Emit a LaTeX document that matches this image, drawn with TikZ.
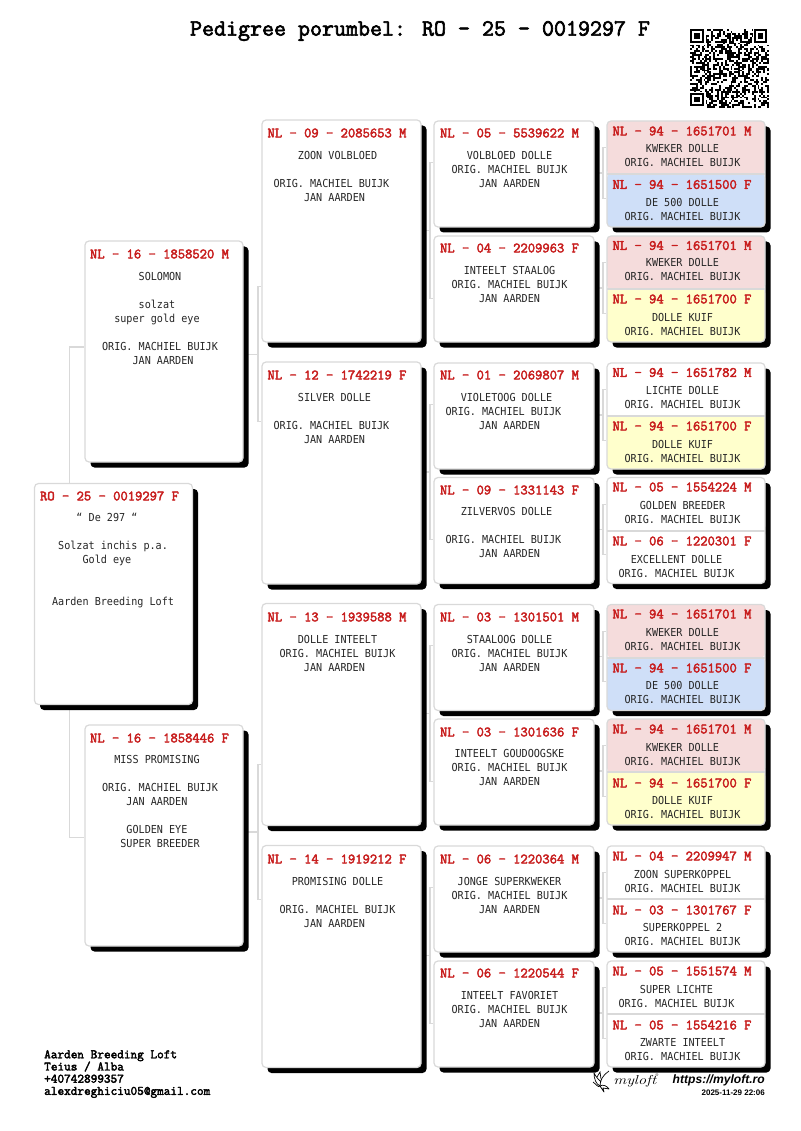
\documentclass[tikz,border=0pt]{standalone}
\usepackage{fontspec}
\usepackage{tikz}
\usetikzlibrary{calc,shadows,backgrounds}

\newfontfamily\bodyfont[FakeStretch=0.92]{DejaVu Sans Mono}
\newfontfamily\sansfont{Liberation Sans}
\newfontfamily\ringfont[FakeBold=2.8]{Latin Modern Mono}

\definecolor{linegrey}{HTML}{D9D9D9}
\definecolor{ringred}{HTML}{C81E1E}
\definecolor{malefill}{HTML}{F5DCDC}
\definecolor{bluefill}{HTML}{CFDFF8}
\definecolor{yellowfill}{HTML}{FFFFCC}

% one blank character of the text font, to push a centred line sideways
\newcommand{\pad}{\mbox{ }}

% bracket from a parent to its two children
\newcommand{\linkpair}[5]{
    \coordinate (up) at ($(#2.north west)!#4!(#2.south west)$);
    \coordinate (lo) at ($(#3.north west)!#5!(#3.south west)$);
    \coordinate (mid) at ($(up)!.5!(lo)+(-3.5,0)$);
    \draw [link] (up) -- ++(-3.5,0) |- (lo);
    \draw [link] (#1.east |- mid) -- (mid);
}

\tikzset{
    box/.style={draw=linegrey, fill=white, line width=1.2pt, rounded corners=4pt, inner sep=0pt,
        general shadow={fill=black, shadow xshift=5.5pt, shadow yshift=-5.5pt}},
    pairbox/.style 2 args={box, minimum width=158, minimum height=106, path picture={
        \fill [#1] (path picture bounding box.north west) rectangle (path picture bounding box.east);
        \fill [#2] (path picture bounding box.west) rectangle (path picture bounding box.south east);
        \draw [linegrey, line width=2pt] (path picture bounding box.west) -- (path picture bounding box.east);
    }},
    bigbox/.style={box, minimum width=159, minimum height=222},
    midbox/.style={box, minimum width=160, minimum height=106},
    link/.style={draw=linegrey, line width=1.2pt},
    ring/.style={font=\ringfont\fontsize{14.2}{14}\selectfont, text=ringred, inner sep=0pt},
    body/.style={font=\bodyfont\fontsize{11}{14}\selectfont, text=black!85, align=center, inner sep=0pt, anchor=north, yshift=4.1}
}

\begin{document}
\begin{tikzpicture}[x=1pt,y=-1pt]
    \useasboundingbox (0,0) rectangle (800,1131);

    % Title
    \node [font=\ringfont\fontsize{23.3}{24}\selectfont] (title) at (420,31) {Pedigree porumbel: RO — 25 — 0019297 F};

    % QR code
    \pgfmathsetseed{297}
    \def\qrStep{1.93}
    \foreach \i in {0,...,40} {
        \foreach \j in {0,...,40} {
            \pgfmathrandominteger{\qrBit}{0}{1}
            \ifnum\qrBit=1
                \fill (690+\i*\qrStep,29+\j*\qrStep) rectangle ++(\qrStep,\qrStep);
            \fi
        }
    }
    \foreach \a/\b in {0/0,33/0,0/33} {
        \fill [white] (690+\a*\qrStep-\qrStep*0.5,29+\b*\qrStep-\qrStep*0.5) rectangle ++(9*\qrStep,9*\qrStep);
        \fill (690+\a*\qrStep,29+\b*\qrStep) rectangle ++(7*\qrStep,7*\qrStep);
        \fill [white] (690+\a*\qrStep+\qrStep,29+\b*\qrStep+\qrStep) rectangle ++(5*\qrStep,5*\qrStep);
        \fill (690+\a*\qrStep+2*\qrStep,29+\b*\qrStep+2*\qrStep) rectangle ++(3*\qrStep,3*\qrStep);
    }

    % Subject
    \node [box, minimum width=158, minimum height=221] (root) at (113.5,594) {};
    \node [ring] (root ring) at (109.5,496) {RO — 25 — 0019297 F};
    \node [body] (root text) at (110,517) {“ De 297 “\pad\\[14pt]\pad Solzat inchis p.a.\\Gold eye\pad\\[28pt]\pad Aarden Breeding Loft};

    % Parents
    \node [box, minimum width=158, minimum height=221] (solomon) at (164,351.5) {};
    \node [ring] (solomon ring) at (159.5,254) {NL — 16 — 1858520 M};
    \node [body] (solomon text) at (160,276) {SOLOMON\\[14pt]solzat\pad\\super gold eye\pad\\[14pt]ORIG. MACHIEL BUIJK\\\pad JAN AARDEN};

    \node [box, minimum width=158, minimum height=221] (miss) at (164,835.5) {};
    \node [ring] (miss ring) at (159.5,738) {NL — 16 — 1858446 F};
    \node [body] (miss text) at (160,759) {MISS PROMISING\pad\\[14pt]ORIG. MACHIEL BUIJK\\JAN AARDEN\pad\\[14pt]GOLDEN EYE\pad\\SUPER BREEDER};

    % Grandparents
    \node [bigbox] (zoon) at (341.5,231) {};
    \node [ring] (zoon ring) at (337,133) {NL — 09 — 2085653 M};
    \node [body] (zoon text) at (334.5,155) {\pad ZOON VOLBLOED\\[14pt]ORIG. MACHIEL BUIJK\pad\\JAN AARDEN};

    \node [bigbox] (silver) at (341.5,473) {};
    \node [ring] (silver ring) at (337,375) {NL — 12 — 1742219 F};
    \node [body] (silver text) at (334.5,397) {SILVER DOLLE\\[14pt]ORIG. MACHIEL BUIJK\pad\\JAN AARDEN};

    \node [bigbox] (inteelt) at (341.5,714.5) {};
    \node [ring] (inteelt ring) at (337,617) {NL — 13 — 1939588 M};
    \node [body] (inteelt text) at (337.5,639) {DOLLE INTEELT\\ORIG. MACHIEL BUIJK\\JAN AARDEN\pad};

    \node [bigbox] (promising) at (341.5,956.5) {};
    \node [ring] (promising ring) at (337,859) {NL — 14 — 1919212 F};
    \node [body] (promising text) at (337.5,881) {PROMISING DOLLE\\[14pt]ORIG. MACHIEL BUIJK\\JAN AARDEN\pad};

    % Great-grandparents
    \node [midbox] (volbloed) at (514,174) {};
    \node [ring] (volbloed ring) at (509.5,133) {NL — 05 — 5539622 M};
    \node [body] (volbloed text) at (509.5,155) {VOLBLOED DOLLE\\ORIG. MACHIEL BUIJK\\JAN AARDEN};

    \node [midbox] (staalog) at (514,289) {};
    \node [ring] (staalog ring) at (509.5,248) {NL — 04 — 2209963 F};
    \node [body] (staalog text) at (509.5,270) {INTEELT STAALOG\\ORIG. MACHIEL BUIJK\\JAN AARDEN};

    \node [midbox] (violetoog) at (514,416) {};
    \node [ring] (violetoog ring) at (509.5,375) {NL — 01 — 2069807 M};
    \node [body] (violetoog text) at (506.5,397) {VIOLETOOG DOLLE\\ORIG. MACHIEL BUIJK\pad\\\pad JAN AARDEN};

    \node [midbox] (zilvervos) at (514,530.5) {};
    \node [ring] (zilvervos ring) at (509.5,490) {NL — 09 — 1331143 F};
    \node [body] (zilvervos text) at (506.5,511) {ZILVERVOS DOLLE\\[14pt]ORIG. MACHIEL BUIJK\pad\\\pad JAN AARDEN};

    \node [midbox] (staaloog) at (514,657.5) {};
    \node [ring] (staaloog ring) at (509.5,617) {NL — 03 — 1301501 M};
    \node [body] (staaloog text) at (509.5,639) {STAALOOG DOLLE\\ORIG. MACHIEL BUIJK\\JAN AARDEN};

    \node [midbox] (goudoogske) at (514,772) {};
    \node [ring] (goudoogske ring) at (509.5,732) {NL — 03 — 1301636 F};
    \node [body] (goudoogske text) at (509.5,753.5) {INTEELT GOUDOOGSKE\\ORIG. MACHIEL BUIJK\\JAN AARDEN};

    \node [midbox] (superkweker) at (514,899) {};
    \node [ring] (superkweker ring) at (509.5,859) {NL — 06 — 1220364 M};
    \node [body] (superkweker text) at (509.5,881) {JONGE SUPERKWEKER\\ORIG. MACHIEL BUIJK\\JAN AARDEN};

    \node [midbox] (favoriet) at (514,1014) {};
    \node [ring] (favoriet ring) at (509.5,973) {NL — 06 — 1220544 F};
    \node [body] (favoriet text) at (509.5,995.5) {INTEELT FAVORIET\\ORIG. MACHIEL BUIJK\\JAN AARDEN};

    % Last generation, two birds in each box
    \node [pairbox={malefill}{bluefill}] (pairA) at (686,174) {};
    \node [ring] (pairA ring m) at (682,131) {NL — 94 — 1651701 M};
    \node [body] (pairA text m) at (682.5,148) {KWEKER DOLLE\\ORIG. MACHIEL BUIJK};
    \node [ring] (pairA ring f) at (682,184.5) {NL — 94 — 1651500 F};
    \node [body] (pairA text f) at (682.5,202) {DE 500 DOLLE\\ORIG. MACHIEL BUIJK};

    \node [pairbox={malefill}{yellowfill}] (pairB) at (686,289) {};
    \node [ring] (pairB ring m) at (682,245.5) {NL — 94 — 1651701 M};
    \node [body] (pairB text m) at (682.5,262.5) {KWEKER DOLLE\\ORIG. MACHIEL BUIJK};
    \node [ring] (pairB ring f) at (682,299) {NL — 94 — 1651700 F};
    \node [body] (pairB text f) at (682.5,317) {DOLLE KUIF\\ORIG. MACHIEL BUIJK};

    \node [pairbox={white}{yellowfill}] (pairC) at (686,416) {};
    \node [ring] (pairC ring m) at (682,372.5) {NL — 94 — 1651782 M};
    \node [body] (pairC text m) at (682.5,390) {LICHTE DOLLE\\ORIG. MACHIEL BUIJK};
    \node [ring] (pairC ring f) at (682,426) {NL — 94 — 1651700 F};
    \node [body] (pairC text f) at (682.5,444) {DOLLE KUIF\\ORIG. MACHIEL BUIJK};

    \node [pairbox={white}{white}] (pairD) at (686,530.5) {};
    \node [ring] (pairD ring m) at (682,487) {NL — 05 — 1554224 M};
    \node [body] (pairD text m) at (682.5,505) {GOLDEN BREEDER\\ORIG. MACHIEL BUIJK};
    \node [ring] (pairD ring f) at (682,541) {NL — 06 — 1220301 F};
    \node [body] (pairD text f) at (676.5,559) {EXCELLENT DOLLE\\ORIG. MACHIEL BUIJK};

    \node [pairbox={malefill}{bluefill}] (pairE) at (686,657.5) {};
    \node [ring] (pairE ring m) at (682,614) {NL — 94 — 1651701 M};
    \node [body] (pairE text m) at (682.5,632) {KWEKER DOLLE\\ORIG. MACHIEL BUIJK};
    \node [ring] (pairE ring f) at (682,668) {NL — 94 — 1651500 F};
    \node [body] (pairE text f) at (682.5,685.5) {DE 500 DOLLE\\ORIG. MACHIEL BUIJK};

    \node [pairbox={malefill}{yellowfill}] (pairF) at (686,772) {};
    \node [ring] (pairF ring m) at (682,729) {NL — 94 — 1651701 M};
    \node [body] (pairF text m) at (682.5,747) {KWEKER DOLLE\\ORIG. MACHIEL BUIJK};
    \node [ring] (pairF ring f) at (682,783) {NL — 94 — 1651700 F};
    \node [body] (pairF text f) at (682.5,800.5) {DOLLE KUIF\\ORIG. MACHIEL BUIJK};

    \node [pairbox={white}{white}] (pairG) at (686,899) {};
    \node [ring] (pairG ring m) at (682,856) {NL — 04 — 2209947 M};
    \node [body] (pairG text m) at (682.5,874) {ZOON SUPERKOPPEL\\ORIG. MACHIEL BUIJK};
    \node [ring] (pairG ring f) at (682,910) {NL — 03 — 1301767 F};
    \node [body] (pairG text f) at (682.5,927.5) {SUPERKOPPEL 2\\ORIG. MACHIEL BUIJK};

    \node [pairbox={white}{white}] (pairH) at (686,1014) {};
    \node [ring] (pairH ring m) at (682,971) {NL — 05 — 1551574 M};
    \node [body] (pairH text m) at (676.5,989) {SUPER LICHTE\\ORIG. MACHIEL BUIJK};
    \node [ring] (pairH ring f) at (682,1025) {NL — 05 — 1554216 F};
    \node [body] (pairH text f) at (682.5,1042.5) {ZWARTE INTEELT\\ORIG. MACHIEL BUIJK};

    % Draw connectors behind the boxes
    \begin{scope}[on background layer]
        \draw [link] ($(solomon.north west)!.48!(solomon.south west)$) -| ($(root.north west)+(35.5,0)$);
        \draw [link] ($(miss.north west)!.51!(miss.south west)$) -| ($(root.south west)+(35.5,0)$);
        \linkpair{solomon}{zoon}{silver}{.75}{.27}
        \linkpair{miss}{inteelt}{promising}{.725}{.243}
        \linkpair{zoon}{volbloed}{staalog}{.39}{.585}
        \linkpair{silver}{violetoog}{zilvervos}{.39}{.585}
        \linkpair{inteelt}{staaloog}{goudoogske}{.39}{.585}
        \linkpair{promising}{superkweker}{favoriet}{.39}{.585}
        \linkpair{volbloed}{pairA}{pairA}{.255}{.726}
        \linkpair{staalog}{pairB}{pairB}{.255}{.726}
        \linkpair{violetoog}{pairC}{pairC}{.255}{.726}
        \linkpair{zilvervos}{pairD}{pairD}{.255}{.726}
        \linkpair{staaloog}{pairE}{pairE}{.255}{.726}
        \linkpair{goudoogske}{pairF}{pairF}{.255}{.726}
        \linkpair{superkweker}{pairG}{pairG}{.255}{.726}
        \linkpair{favoriet}{pairH}{pairH}{.255}{.726}
    \end{scope}

    % Footer
    \node [font=\ringfont\fontsize{12.9}{12.2}\selectfont, align=left, anchor=north west, inner sep=0pt] (contact) at (44,1050)
        {Aarden Breeding Loft\\Teius / Alba\\+40742899357\\alexdreghiciu05@gmail.com};
    \node [font=\sansfont\bfseries\itshape\fontsize{12.1}{14}\selectfont, anchor=east, inner sep=0pt] (site) at (765,1080) {https://myloft.ro};
    \node [font=\sansfont\bfseries\fontsize{8}{9}\selectfont, anchor=east, inner sep=0pt] (stamp) at (765,1093) {2025-11-29 22:06};

    % Logo
    \node [font=\itshape\fontsize{13}{14}\selectfont, xscale=1.25, anchor=west, inner sep=0pt] (brand) at (613,1081) {myloft};
    \node [font=\fontsize{4}{5}\selectfont, inner sep=0pt] (brand mark) at (657,1075) {®};
    \draw [line width=0.7pt, line join=round] (609,1071) .. controls (603,1075) and (600,1080) .. (600,1086)
        .. controls (596,1084) and (594,1079) .. (594,1073) .. controls (596,1077) and (599,1080) .. (601,1082);
    \draw [line width=0.7pt] (597,1077) -- (600,1072) -- (601,1079);
    \draw [line width=0.7pt, line join=round] (593,1082) .. controls (596,1084) and (598,1088) .. (600,1086)
        .. controls (603,1084) and (607,1086) .. (609,1089) -- (603,1088) -- (604,1092) -- (600,1086);
\end{tikzpicture}
\end{document}
